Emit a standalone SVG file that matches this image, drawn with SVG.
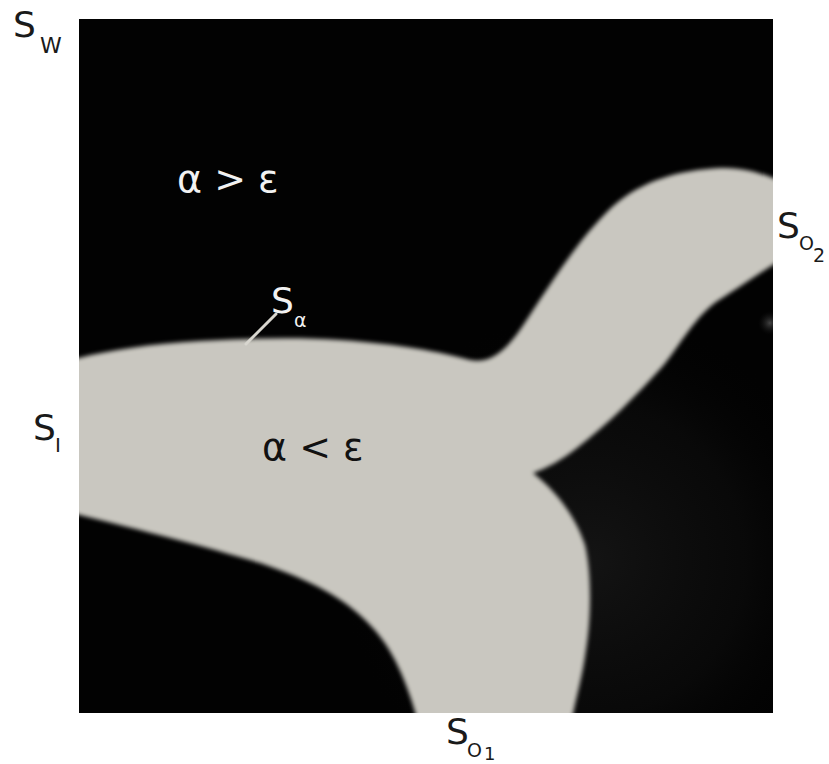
<svg xmlns="http://www.w3.org/2000/svg" width="829" height="764" viewBox="0 0 829 764">
  <style>
    .lbl { font-family: "DejaVu Sans", "Liberation Sans", sans-serif; fill: #1a1a1a; }
    .big { font-size: 36px; }
    .sub { font-size: 19px; }
    .w { fill: #f2f2f2; }
    .k { fill: #111; }
  </style>
  <defs>
    <clipPath id="box"><rect x="79" y="19" width="694" height="694"/></clipPath>
    <filter id="soft" x="-5%" y="-5%" width="110%" height="110%">
      <feGaussianBlur stdDeviation="2.2"/>
    </filter>
    <radialGradient id="haze" cx="590" cy="560" r="260" gradientUnits="userSpaceOnUse">
      <stop offset="0" stop-color="#222" stop-opacity="0.55"/>
      <stop offset="0.6" stop-color="#151515" stop-opacity="0.35"/>
      <stop offset="1" stop-color="#000" stop-opacity="0"/>
    </radialGradient>
    <radialGradient id="spot" cx="770" cy="323" r="12" gradientUnits="userSpaceOnUse">
      <stop offset="0" stop-color="#444"/>
      <stop offset="1" stop-color="#111" stop-opacity="0"/>
    </radialGradient>
  </defs>

  <rect width="829" height="764" fill="#fff"/>

  <g id="domain" clip-path="url(#box)">
    <rect x="79" y="19" width="694" height="694" fill="#020202"/>
    <rect x="79" y="19" width="694" height="694" fill="url(#haze)"/>
    <rect x="740" y="300" width="40" height="50" fill="url(#spot)"/>
    <path id="channel" filter="url(#soft)" fill="#c9c7c0"
      d="M 60,360 L 79,358
         C 110,350 150,344 200,341
         C 250,338 300,337 340,340
         C 400,344 440,352 470,360
         C 490,364 505,352 522,327
         C 548,288 577,240 612,207
         C 642,180 680,170 720,168
         C 745,167 765,174 790,185
         L 790,255
         C 775,262 748,282 716,302
         C 692,320 677,350 662,367
         C 637,395 607,425 577,448
         C 562,460 547,468 533,473
         C 555,490 575,515 585,545
         C 592,575 591,620 586,650
         C 582,680 575,700 570,730
         L 420,730
         C 410,690 395,650 370,625
         C 345,598 310,580 260,563
         C 200,545 140,530 60,510 Z"/>
  </g>

  <g id="connectors">
    <line x1="276" y1="314" x2="246" y2="344" stroke="#d8d6cf" stroke-width="3" stroke-linecap="round"/>
  </g>

  <g id="label-sw">
    <text class="lbl big" x="13" y="37">S</text>
    <text class="lbl" x="40" y="53" font-size="22">W</text>
  </g>
  <g id="label-so2">
    <text class="lbl big" x="777" y="238">S</text>
    <text class="lbl sub" x="799" y="250">O</text>
    <text class="lbl sub" x="813" y="262">2</text>
  </g>
  <g id="label-si">
    <text class="lbl big" x="33" y="440">S</text>
    <text class="lbl" x="55" y="452" font-size="20">I</text>
  </g>
  <g id="label-so1">
    <text class="lbl big" x="446" y="744">S</text>
    <text class="lbl sub" x="467" y="757">O</text>
    <text class="lbl" x="484" y="760" font-size="18">1</text>
  </g>
  <g id="label-outer">
    <text class="lbl w" x="177" y="192" font-size="38" xml:space="preserve">α &gt; ε</text>
  </g>
  <g id="label-salpha">
    <text class="lbl w big" x="271" y="313">S</text>
    <text class="lbl w" x="294" y="327" font-size="19">α</text>
  </g>
  <g id="label-inner">
    <text class="lbl k" x="262" y="460" font-size="38" xml:space="preserve">α &lt; ε</text>
  </g>
</svg>
